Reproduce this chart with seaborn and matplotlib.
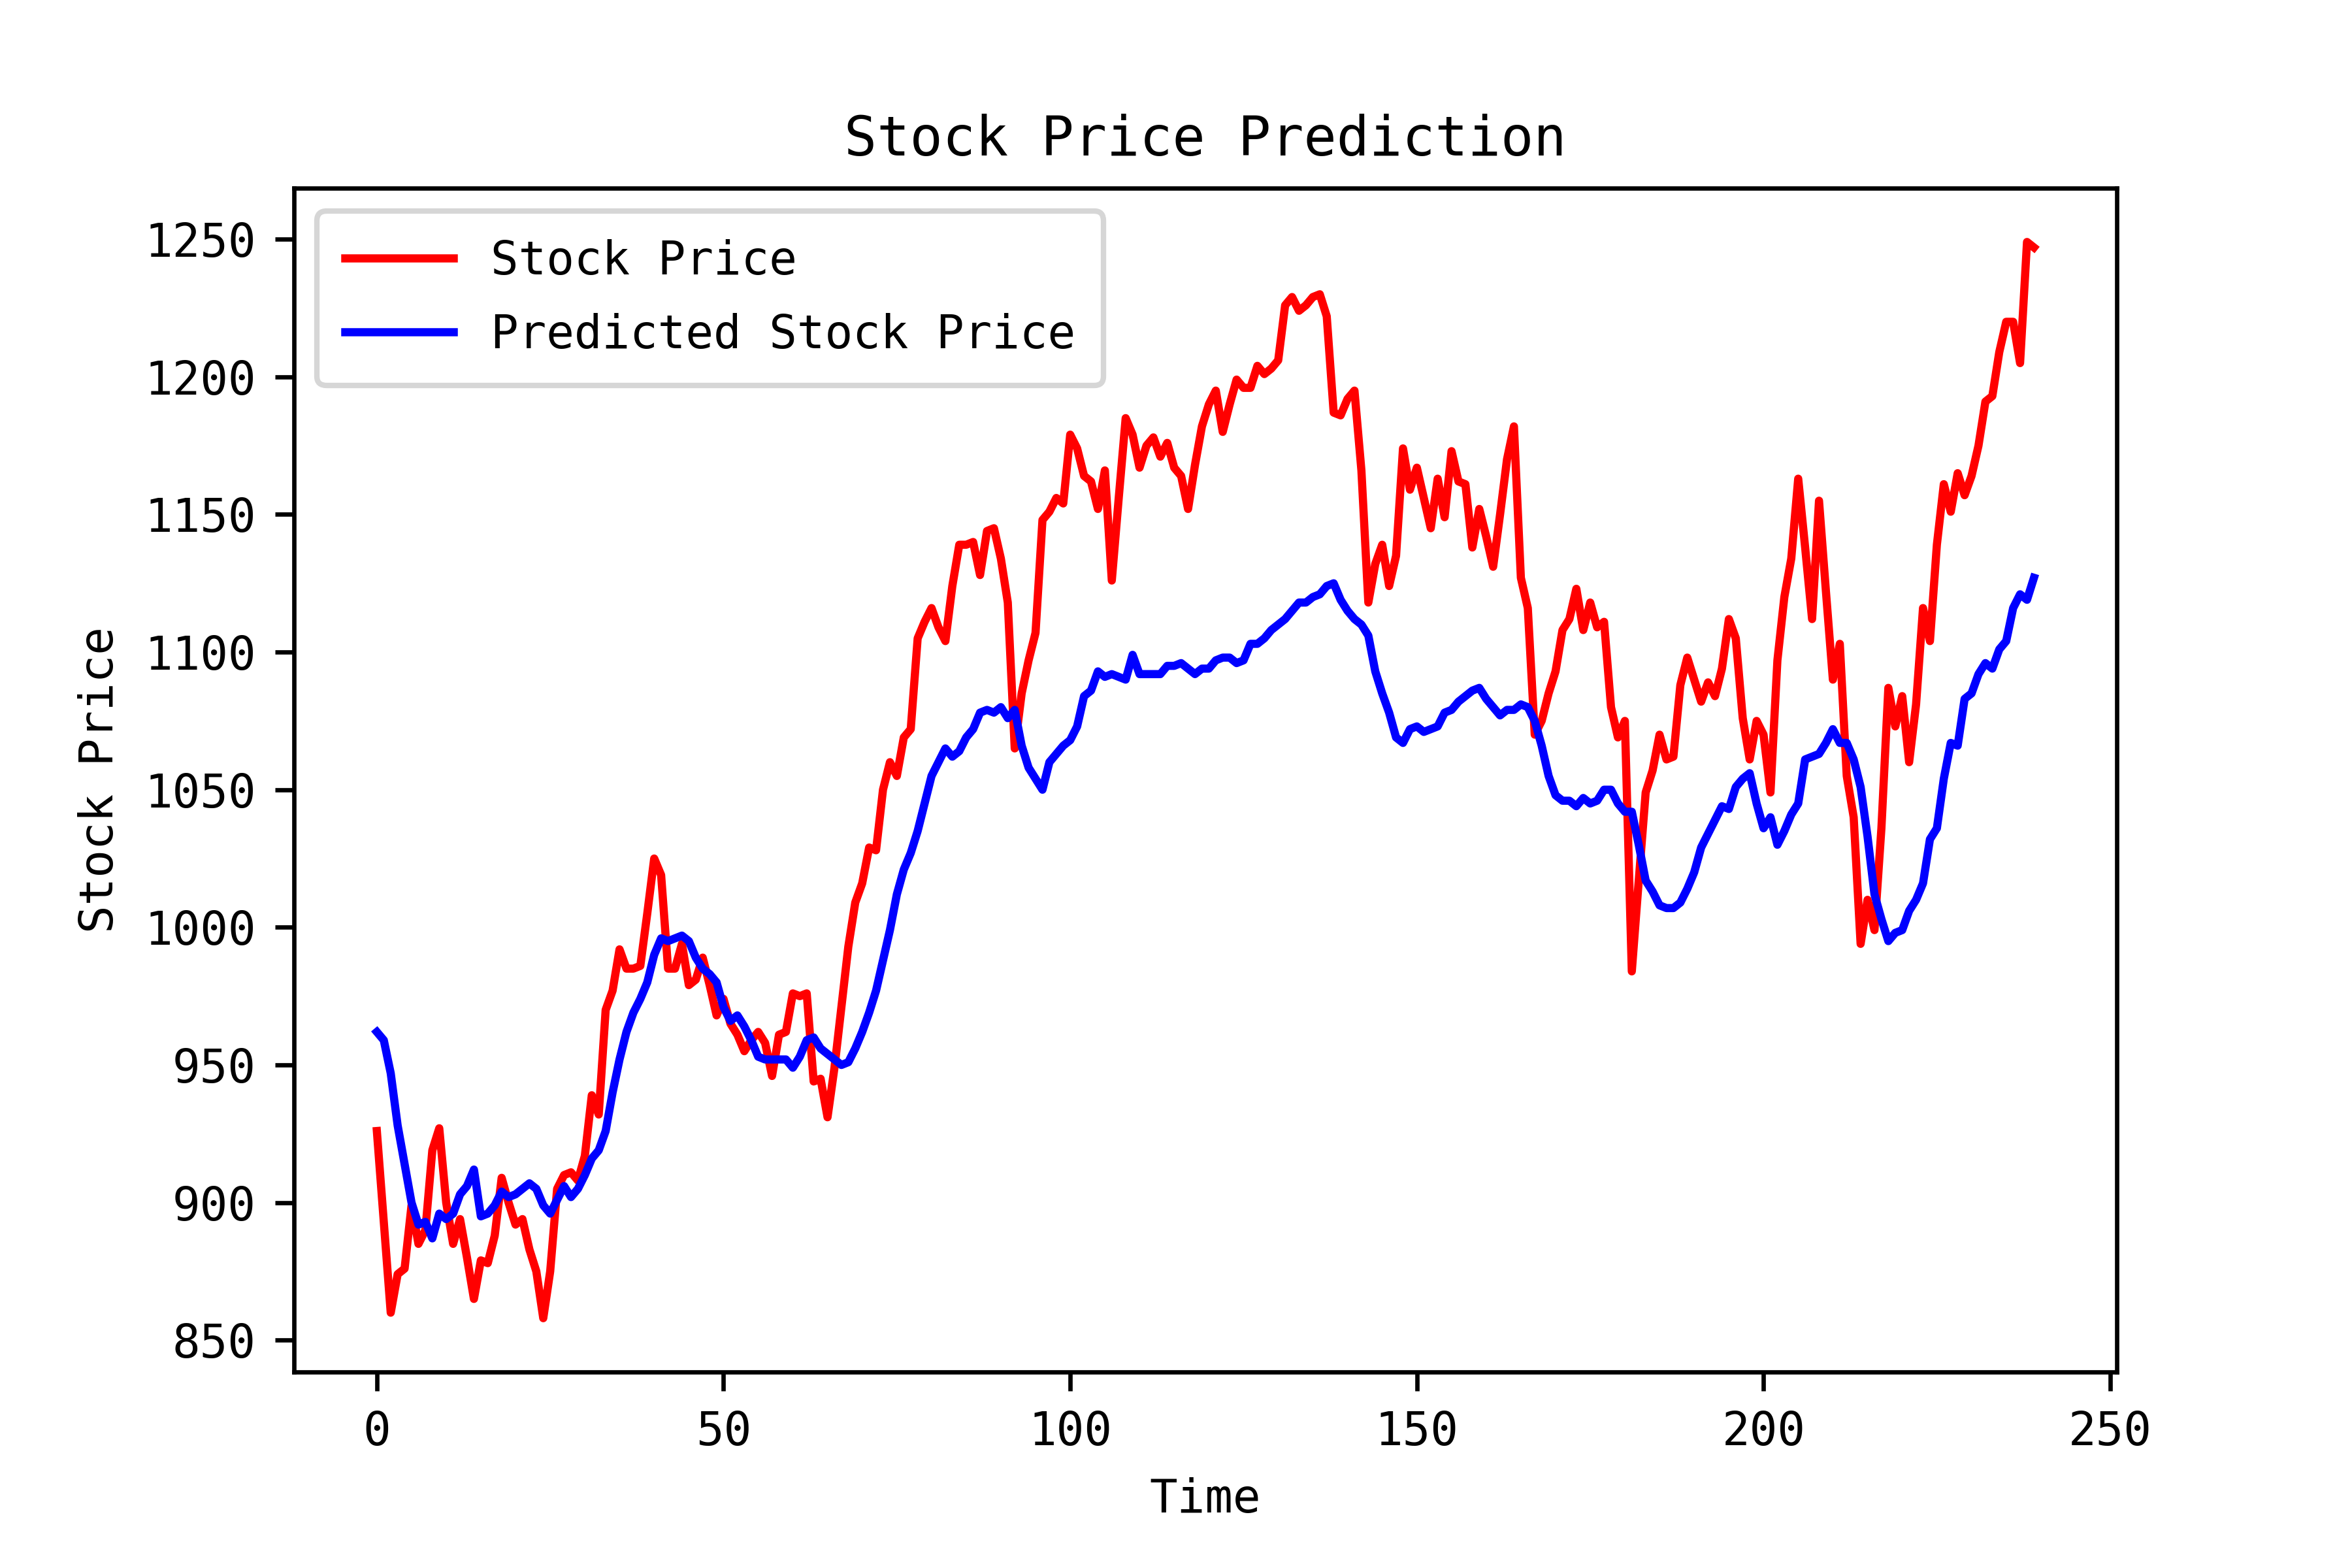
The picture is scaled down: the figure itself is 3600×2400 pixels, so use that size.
import matplotlib
matplotlib.use("Agg")
import matplotlib.pyplot as plt
import seaborn as sns
import pandas as pd

# ---- data ----
stock_price = [
    926, 893, 860, 874, 876, 899, 885, 890, 919, 927,
    900, 885, 894, 880, 865, 879, 878, 888, 909, 900,
    892, 894, 883, 875, 858, 875, 905, 910, 911, 908,
    917, 939, 932, 970, 977, 992, 985, 985, 986, 1005,
    1025, 1019, 985, 985, 994, 979, 981, 989, 979, 968,
    974, 965, 961, 955, 959, 962, 958, 946, 961, 962,
    976, 975, 976, 944, 945, 931, 949, 971, 993, 1009,
    1016, 1029, 1028, 1050, 1060, 1055, 1069, 1072, 1105, 1111,
    1116, 1109, 1104, 1124, 1139, 1139, 1140, 1128, 1144, 1145,
    1134, 1118, 1065, 1085, 1097, 1107, 1148, 1151, 1156, 1154,
    1179, 1174, 1164, 1162, 1152, 1166, 1126, 1156, 1185, 1179,
    1167, 1175, 1178, 1171, 1176, 1167, 1164, 1152, 1168, 1182,
    1190, 1195, 1180, 1190, 1199, 1196, 1196, 1204, 1201, 1203,
    1206, 1226, 1229, 1224, 1226, 1229, 1230, 1222, 1187, 1186,
    1192, 1195, 1166, 1118, 1132, 1139, 1124, 1135, 1174, 1159,
    1167, 1156, 1145, 1163, 1149, 1173, 1162, 1161, 1138, 1152,
    1142, 1131, 1150, 1170, 1182, 1127, 1116, 1070, 1075, 1085,
    1093, 1108, 1112, 1123, 1108, 1118, 1109, 1111, 1080, 1069,
    1075, 984, 1017, 1049, 1057, 1070, 1061, 1062, 1088, 1098,
    1090, 1082, 1089, 1084, 1094, 1112, 1105, 1076, 1061, 1075,
    1070, 1049, 1097, 1120, 1134, 1163, 1138, 1112, 1155, 1122,
    1090, 1103, 1055, 1040, 994, 1010, 999, 1036, 1087, 1073,
    1084, 1060, 1081, 1116, 1104, 1139, 1161, 1151, 1165, 1157,
    1164, 1175, 1191, 1193, 1209, 1220, 1220, 1205, 1249, 1247,
]

predicted_price = [
    962, 959, 947, 928, 914, 900, 892, 893, 887, 896,
    894, 896, 903, 906, 912, 895, 896, 899, 904, 902,
    903, 905, 907, 905, 899, 896, 901, 906, 902, 905,
    910, 916, 919, 926, 940, 952, 962, 969, 974, 980,
    990, 996, 995, 996, 997, 995, 989, 985, 983, 980,
    971, 966, 968, 964, 959, 953, 952, 952, 952, 952,
    949, 953, 959, 960, 956, 954, 952, 950, 951, 956,
    962, 969, 977, 988, 999, 1012, 1021, 1027, 1035, 1045,
    1055, 1060, 1065, 1062, 1064, 1069, 1072, 1078, 1079, 1078,
    1080, 1076, 1079, 1066, 1058, 1054, 1050, 1060, 1063, 1066,
    1068, 1073, 1084, 1086, 1093, 1091, 1092, 1091, 1090, 1099,
    1092, 1092, 1092, 1092, 1095, 1095, 1096, 1094, 1092, 1094,
    1094, 1097, 1098, 1098, 1096, 1097, 1103, 1103, 1105, 1108,
    1110, 1112, 1115, 1118, 1118, 1120, 1121, 1124, 1125, 1119,
    1115, 1112, 1110, 1106, 1093, 1085, 1078, 1069, 1067, 1072,
    1073, 1071, 1072, 1073, 1078, 1079, 1082, 1084, 1086, 1087,
    1083, 1080, 1077, 1079, 1079, 1081, 1080, 1075, 1066, 1055,
    1048, 1046, 1046, 1044, 1047, 1045, 1046, 1050, 1050, 1045,
    1042, 1042, 1030, 1017, 1013, 1008, 1007, 1007, 1009, 1014,
    1020, 1029, 1034, 1039, 1044, 1043, 1051, 1054, 1056, 1045,
    1036, 1040, 1030, 1035, 1041, 1045, 1061, 1062, 1063, 1067,
    1072, 1067, 1067, 1061, 1051, 1033, 1012, 1003, 995, 998,
    999, 1006, 1010, 1016, 1032, 1036, 1054, 1067, 1066, 1083,
    1085, 1092, 1096, 1094, 1101, 1104, 1116, 1121, 1119, 1127,
]

time_index = list(range(len(stock_price)))

series_labels = ["Stock Price", "Predicted Stock Price"]
series_colors = ["red", "blue"]
x_ticks = [0, 50, 100, 150, 200, 250]
y_ticks = [850, 900, 950, 1000, 1050, 1100, 1150, 1200, 1250]
title_text = "Stock Price Prediction"
x_label = "Time"
y_label = "Stock Price"

df = pd.DataFrame({
    "Time": time_index + time_index,
    "Price": stock_price + predicted_price,
    "Series": [series_labels[0]] * len(stock_price) + [series_labels[1]] * len(predicted_price),
})

plt.rcParams["font.family"] = ["DejaVu Sans Mono", "DejaVu Sans"]
plt.rcParams["font.size"] = 8.5

fig = plt.figure(figsize=(6, 4), dpi=600)
fig.subplots_adjust(left=0.125, right=0.9, bottom=0.125, top=0.88)
ax = fig.add_subplot(111)

sns.lineplot(
    data=df, x="Time", y="Price", hue="Series",
    palette=dict(zip(series_labels, series_colors)),
    linewidth=1.5, ax=ax, legend=True,
)

ax.set_xticks(x_ticks)
ax.set_yticks(y_ticks)
ax.set_title(title_text, fontsize=10)
ax.set_xlabel(x_label, fontsize=8.5)
ax.set_ylabel(y_label, fontsize=8.5)
ax.tick_params(labelsize=8.5)

leg = ax.legend(loc="upper left", fontsize=8.5, handlelength=2.35,
                labelspacing=0.62, borderpad=0.6)
leg.set_title(None)

fig.savefig("out.png", dpi=600)
